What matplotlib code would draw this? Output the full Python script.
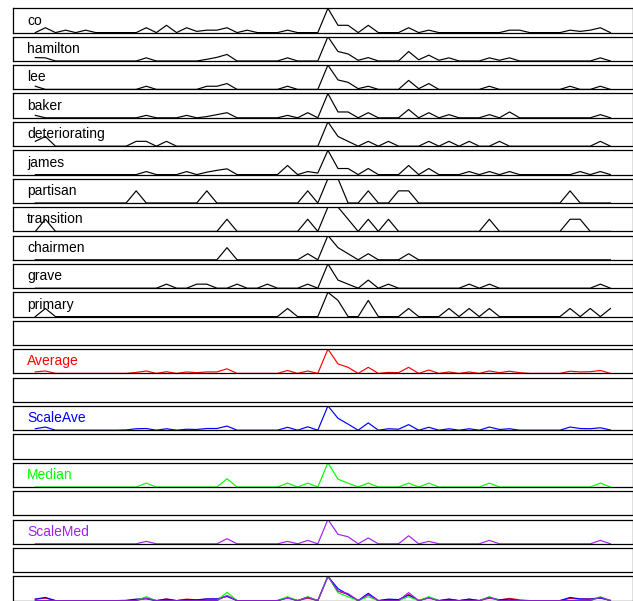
import numpy as np
import matplotlib
matplotlib.use("Agg")
import matplotlib.pyplot as plt

plt.rcParams['font.family'] = ['Liberation Sans', 'DejaVu Sans']

# ---- data (per-panel scale) ----
co = [0,2,0,1,0,1,0,0,0,0, 0,2,0,3,0,2,0.5,1,1,2, 0,1,0,0,0,1,0,0,0,10,
      3,3,0,3,0,0,0,2,0,1, 0,0,0,0,0,0,0,1,1,0, 0,0,0,1,0.5,1,2,0]
hamilton = [1.4,1.3,0,0,0,0,0,0,0,0, 0,1.3,0,0,0,0,0,0.7,1.5,2.7, 0,0,0,0,0,1.3,0,0,0,10,
            3.9,2.9,0.3,1.4,0,0,0,3.9,0.5,2.4, 0.3,1.3,0,0,0,1.3,0.3,1.3,0,0, 0,0,0,0,0,0,1.3,0]
lee = [1.3,0,0,0,0,0,0,0,0,0, 0,1.3,0,0,0,0,0,1.3,1.3,2.4, 0,0,0,0,0,1.3,0,0,0,10,
       3.9,2.9,0.3,1.3,0,0,0,3.7,0.3,2.4, 0,0,0,0,0,1.3,0,0,0,0, 0,0,0,1.3,0,0,1.3,0]
baker = [1,0,0,0,0,0,0,0,0,0, 0,1,0,0,0,1,0,0.5,1.3,2.1, 0,0,0,0,0,1,0,2.1,0,10,
         2.4,2.4,0,2.1,0,0,0,3.4,0,2.1, 0,1.3,0,0,0,1.3,0,2.4,0,0, 0,0,0,0,0,0,1.3,0]
deteriorating = [1,2,0,0,0,0,0,0,0,0, 1,1,0,1,0,0,0,0,0,0, 0,0,0,0,0,0,0,0,0,5,
                 2,1,0,1,0,1,0,0,0,1, 0,1,0,1,0,0,1,0,0,0, 0,0,0,0,0,0,1,0]
james = [0,0,0,0,0,0,0,0,0,0, 0,1,0,0,0,1,0,0.8,1.4,1.9, 0,0,0,0,0,3,0,1,0.5,8,
         2,2,0,2,0,0,0,3,0,2, 0,0,0,1,0,1,0,1,0,0, 0,0,0,0,1,0,1,0]
partisan = [0,0,0,0,0,0,0,0,0,0, 1,0,0,0,0,0,0,1,0,0, 0,0,0,0,0,0,0,1,0,2,
            2,0,0,1,0,0,1,1,0,0, 0,0,0,0,0,0,0,0,0,0, 0,0,0,1,0,0,0,0]
transition = [0,1,0,0,0,0,0,0,0,0, 0,0,0,0,0,0,0,0,0,1, 0,0,0,0,0,0,0,1,0,2,
              2,1,0,1,0,1,0,0,0,0, 0,0,0,0,0,1,0,0,0,0, 0,0,0,1,1,0,0,0]
chairmen = [0,0,0,0,0,0,0,0,0,0, 0,0,0,0,0,0,0,0,0,2, 0,0,0,0,0,0,0,1,0,4,
            2,1,0,1,0,0,0,1,0,0, 0,0,0,0,0,0,0,0,0,0, 0,0,0,0,0,0,0,0]
grave = [0,0,0,0,0,0,0,0,0,0, 0,0,0,1,0,0,1,1,0,0, 1,0,0,1,0,0,0,1,0,6,
         2,1,0,2,0,1,0,0,0,0, 0,0,0,1,0,1,0,0,0,0, 0,0,0,0,0,0,1,0]
primary = [0,1,0,0,0,0,0,0,0,0, 0,0,0,0,0,0,0,0,0,0, 0,0,0,0,0,1,0,0,0,3,
           2,0,0,2,0,0,0,1,0,0, 0,1,0,1,0,1,0,0,0,0, 0,0,0,1,0,1,0,1]

average = [0.06,0.10,0,0,0,0,0,0,0,0, 0.04,0.10,0,0.07,0,0.06,0.03,0.06,0.06,0.19,
           0,0,0,0,0,0.12,0,0.10,0,1.0, 0.39,0.25,0,0.25,0,0.04,0.03,0.25,0,0.14,
           0,0.06,0,0.06,0,0.10,0.03,0.09,0.03,0, 0,0,0,0.09,0.06,0.07,0.12,0]
scale_ave = [0.06,0.13,0,0,0,0,0,0,0,0.01, 0.06,0.07,0,0.06,0,0.04,0.03,0.07,0.07,0.17,
             0,0,0,0,0,0.12,0,0.14,0,1.0, 0.49,0.25,0,0.30,0,0.06,0.04,0.23,0,0.12,
             0,0.06,0,0.06,0,0.13,0.03,0.06,0,0, 0,0,0,0.13,0.07,0.06,0.10,0.01]
median = [0,0,0,0,0,0,0,0,0,0, 0,0.16,0,0,0,0,0,0,0,0.34, 0,0,0,0,0,0.16,0,0.16,0,1.0,
          0.32,0.16,0,0.16,0,0,0,0.16,0,0.16, 0,0,0,0,0,0.16,0,0,0,0, 0,0,0,0,0,0,0.16,0]
scale_med = [0,0,0,0,0,0,0,0,0,0, 0,0.10,0,0,0,0,0,0,0,0.21, 0,0,0,0,0,0.10,0,0.14,0,1.0,
             0.39,0.29,0,0.24,0,0,0,0.33,0,0.10, 0,0,0,0,0,0.14,0,0,0,0, 0,0,0,0,0,0,0.14,0]

word_names = ["co", "hamilton", "lee", "baker", "deteriorating", "james",
              "partisan", "transition", "chairmen", "grave", "primary"]
word_series = [co, hamilton, lee, baker, deteriorating, james,
               partisan, transition, chairmen, grave, primary]
agg_names = ["Average", "ScaleAve", "Median", "ScaleMed"]
agg_series = [average, scale_ave, median, scale_med]
agg_colors = ["#FF0000", "#0000FF", "#00FF00", "#A020F0"]

# ---- layout ----
W, H = 633, 601
fig = plt.figure(figsize=(W / 100, H / 100), dpi=100)
x = np.arange(len(co))
left_px, right_px = 12.5, 632.5
top0, pitch, ph = 8.3, 28.4, 24.3
xlim = ((left_px - 35.3) / 10.09, (right_px - 35.3) / 10.09)


def make_ax(k):
    top = top0 + pitch * k
    ax = fig.add_axes([left_px / W, 1 - (top + ph) / H, (right_px - left_px) / W, ph / H])
    ax.set_xlim(*xlim)
    ax.set_xticks([])
    ax.set_yticks([])
    for s in ax.spines.values():
        s.set_linewidth(0.9)
        s.set_color("black")
    return ax


def label(ax, text, color="black"):
    ax.text((27.3 - left_px) / (right_px - left_px), 0.33, text, transform=ax.transAxes,
            ha="left", va="baseline", fontsize=10, color=color)


k = 0
for name, s in zip(word_names, word_series):
    ax = make_ax(k)
    ax.plot(x, s, color="black", lw=0.85)
    ax.set_ylim(0, max(s))
    label(ax, name)
    k += 1

for name, s, c in zip(agg_names, agg_series, agg_colors):
    make_ax(k)  # empty spacer panel
    k += 1
    ax = make_ax(k)
    ax.plot(x, s, color=c, lw=0.85)
    ax.set_ylim(0, max(s))
    label(ax, name, c)
    k += 1

make_ax(k)
k += 1
ax = make_ax(k)
for s, c in zip(agg_series, agg_colors):
    ax.plot(x, np.array(s) / max(s), color=c, lw=0.85)
ax.set_ylim(0, 1)

fig.savefig("out.png", dpi=100)
